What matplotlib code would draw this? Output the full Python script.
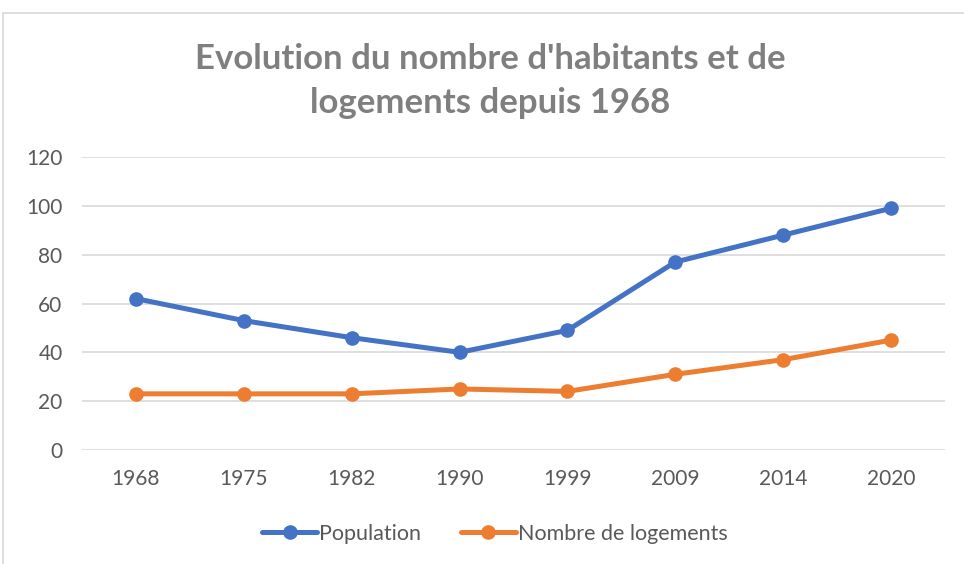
import matplotlib.pyplot as plt
from matplotlib.patches import Rectangle

# Données
annees = ["1968", "1975", "1982", "1990", "1999", "2009", "2014", "2020"]
population = [62, 53, 46, 40, 49, 77, 88, 99]
logements = [23, 23, 23, 25, 24, 31, 37, 45]

plt.rcParams['font.family'] = ['Lato', 'DejaVu Sans']

fig = plt.figure(figsize=(9.64, 5.64), dpi=100)
W, H = 964, 564
ax = fig.add_axes([82 / W, 1 - 450 / H, (945 - 82) / W, (450 - 157) / H])

x = range(len(annees))
ax.plot(x, population, color='#4472C4', lw=3.6, marker='o', ms=9.5,
        solid_capstyle='round', label="Population")
ax.plot(x, logements, color='#ED7D31', lw=3.6, marker='o', ms=9.5,
        solid_capstyle='round', label="Nombre de logements")

ax.set_xlim(-0.5, len(annees) - 0.5)
ax.set_ylim(0, 120)
ax.set_yticks(range(0, 121, 20))
ax.set_xticks(list(x))
ax.set_xticklabels(annees)
ax.tick_params(length=0, labelsize=15, labelcolor='#595959', pad=14)
ax.tick_params(axis='y', pad=14)
ax.grid(axis='y', color='#d9d9d9', lw=1.2)
ax.set_axisbelow(True)
for s in ax.spines.values():
    s.set_visible(False)

# Titre
fig.text(490 / W, 1 - 81 / H,
         "Evolution du nombre d'habitants et de\nlogements depuis 1968",
         ha='center', va='center', fontsize=25, fontweight='bold',
         color='#7f7f7f', linespacing=1.45)

# Légende
fig.legend(loc='center', bbox_to_anchor=(495 / W, 1 - 534 / H), ncol=2,
           frameon=False, fontsize=15.5, labelcolor='#595959',
           handlelength=2.55, handletextpad=0.1, columnspacing=1.85)

# Cadre
fig.add_artist(Rectangle((3 / W, -0.1), 1.2, 1 - 13 / H + 0.1,
                         transform=fig.transFigure, fill=False,
                         edgecolor='#d9d9d9', lw=1.2))

fig.savefig("out.png", dpi=100)
